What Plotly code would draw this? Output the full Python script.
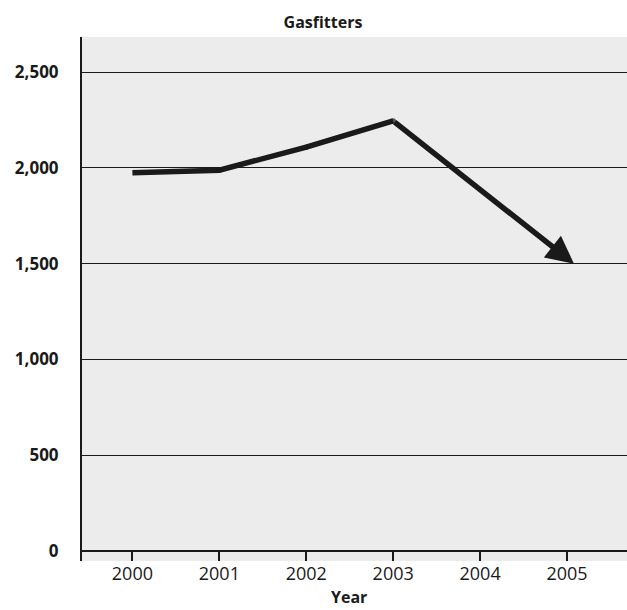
import plotly.graph_objects as go

years = [2000, 2001, 2002, 2003]
workers = [1975, 1988, 2108, 2245]
projected_year = 2005.08
projected_value = 1500
x_ticks = [2000, 2001, 2002, 2003, 2004, 2005]
y_ticks = [0, 500, 1000, 1500, 2000, 2500]
y_labels = ["0", "500", "1,000", "1,500", "2,000", "2,500"]

ink = "#1a1a1a"
font = "Open Sans"
line_w = 5.5

fig = go.Figure()
fig.add_trace(go.Scatter(
    x=years, y=workers, mode="lines+markers",
    line=dict(color=ink, width=line_w),
    marker=dict(color=ink, size=[0] + [line_w] * (len(years) - 1), line=dict(width=0)),
    hoverinfo="skip", showlegend=False,
))

fig.add_annotation(
    x=projected_year, y=projected_value, xref="x", yref="y",
    ax=years[-1], ay=workers[-1], axref="x", ayref="y",
    text="", showarrow=True, arrowhead=2, arrowsize=1.0,
    arrowwidth=line_w, arrowcolor=ink, standoff=0, startstandoff=0,
)

# x-axis title
fig.add_annotation(
    text="<b>Year</b>", xref="paper", yref="paper",
    x=(349 - 82) / 545, y=(561 - 597) / 524, xanchor="center", yanchor="middle",
    showarrow=False, font=dict(size=16, family=font, color=ink),
)

fig.update_layout(
    width=627, height=610,
    margin=dict(l=82, r=0, t=37, b=49),
    paper_bgcolor="white", plot_bgcolor="#ececec",
    font=dict(family=font, color=ink),
    title=dict(text="<b>Gasfitters</b>", font=dict(size=16, family=font, color=ink),
               x=323 / 627, xanchor="center", xref="container",
               y=1 - 22 / 610, yanchor="middle", yref="container"),
    showlegend=False,
)

fig.update_xaxes(
    range=[1999.42, 2005.69], tickvals=x_ticks,
    ticktext=[str(v) for v in x_ticks],
    ticks="inside", ticklen=10, tickwidth=2, tickcolor=ink,
    tickfont=dict(size=18, family=font, color=ink),
    showgrid=False, zeroline=False, showline=False,
)

fig.update_yaxes(
    range=[-52, 2683], tickvals=y_ticks, ticktext=[f"<b>{t}</b>" for t in y_labels],
    ticks="", ticklabelstandoff=18,
    tickfont=dict(size=17, family=font, color=ink),
    showgrid=True, gridcolor=ink, gridwidth=1.3,
    zeroline=True, zerolinecolor=ink, zerolinewidth=2,
    showline=True, linecolor=ink, linewidth=2,
)

fig.write_html(
    "out.html",
    config={"displayModeBar": False},
    post_script="document.body.style.margin='0';document.body.style.overflow='hidden';",
)
